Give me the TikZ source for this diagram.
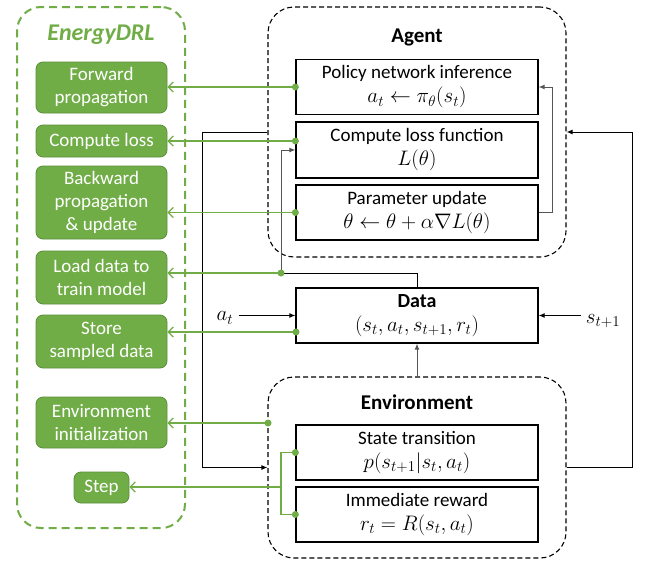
\RequirePackage{fix-cm}
\documentclass[tikz,border=0pt]{standalone}
\usepackage{fontspec}
\setmainfont{Carlito}
\DeclareMathSizes{19}{21}{15}{12}
\DeclareMathSizes{20}{21}{15}{12}
\usetikzlibrary{arrows.meta,calc}
\definecolor{gfill}{HTML}{70AD47}
\definecolor{gdark}{HTML}{5A8F39}
\definecolor{lgray}{HTML}{555555}
\tikzset{
  gbox/.style={draw=gdark, line width=0.8pt, fill=gfill, rounded corners=7pt, text=white, align=center, inner sep=0pt, font=\fontsize{19}{23}\selectfont, minimum width=131pt},
  ibox/.style={draw=black, line width=1.3pt, fill=white, align=center, inner sep=0pt, font=\fontsize{19}{24}\selectfont, minimum width=242pt, minimum height=55pt},
  dbox/.style={draw=black, line width=1.1pt, dash pattern=on 5pt off 3pt, rounded corners=26pt, inner sep=0pt, minimum width=298pt},
  gdash/.style={draw=gfill, line width=2pt, dash pattern=on 8pt off 5pt, rounded corners=24pt, inner sep=0pt},
  gline/.style={draw=gfill, line width=1.6pt},
  garrow/.style={gline, -{Straight Barb[length=5pt,width=10pt,line width=1.3pt]}},
  barrow/.style={draw=black, line width=1pt, -{Latex[length=6pt,width=5pt]}},
  grarrow/.style={draw=lgray, line width=1pt, -{Latex[length=6pt,width=5pt]}},
  gdot/.style={circle, fill=gfill, inner sep=0pt, minimum size=7pt},
  ttl/.style={font=\fontsize{21}{25}\selectfont\bfseries, inner sep=0pt},
}
\begin{document}
\begin{tikzpicture}[x=1pt,y=-1pt]
\useasboundingbox (0,0) rectangle (648,562);
% containers
\node[gdash, minimum width=168pt, minimum height=521pt] (energy) at (101,267.5) {};
\node[text=gfill, font=\fontsize{24}{28}\selectfont\bfseries\itshape, inner sep=0pt] (etitle) at (101,35) {EnergyDRL};
\node[dbox, minimum height=250pt] (agent) at (417,132) {};
\node[dbox, minimum height=181pt] (env) at (417,467.5) {};
\node[ttl] (atitle) at (417,37) {Agent};
\node[ttl] (etitle2) at (417,402) {Environment};
% green boxes
\node[gbox, minimum height=51pt] (fwd) at (101.5,87.5) {Forward\\propagation};
\node[gbox, minimum height=32pt] (closs) at (101.5,141) {Compute loss};
\node[gbox, minimum height=73pt] (bwd) at (101.5,202.5) {Backward\\propagation\\\&~update};
\node[gbox, minimum height=53pt] (load) at (101.5,277.5) {Load data to\\train model};
\node[gbox, minimum height=53pt] (store) at (101.5,341.5) {Store\\sampled data};
\node[gbox, minimum height=51pt] (einit) at (101.5,422.5) {Environment\\initialization};
\node[gbox, minimum height=31pt, minimum width=55pt] (step) at (101.5,487.5) {Step};
% inner boxes
\node[ibox] (policy) at (417,87) {Policy network inference\\$a_t \leftarrow \pi_\theta(s_t)$};
\node[ibox, minimum height=56pt] (loss) at (417,150) {Compute loss function\\$L(\theta)$};
\node[ibox] (param) at (417,212.5) {Parameter update\\$\theta \leftarrow \theta + \alpha\nabla L(\theta)$};
\node[ibox] (data) at (417,315.5) {{\fontsize{20}{24}\selectfont\bfseries Data}\\$(s_t,a_t,s_{t+1},r_t)$};
\node[ibox] (state) at (417,452.5) {State transition\\$p(s_{t+1}|s_t,a_t)$};
\node[ibox] (reward) at (417,514.5) {Immediate reward\\$r_t = R(s_t,a_t)$};
% labels
\node[font=\fontsize{19}{23}\selectfont, inner sep=0pt] (at) at (225,318) {$a_t$};
\node[font=\fontsize{19}{23}\selectfont, inner sep=0pt] (st) at (603,321) {$s_{t+1}$};
% junction coordinates
\coordinate (j1) at (281,273);
\coordinate (ds) at (296,332);
\coordinate (ei) at (268,423);
\coordinate (sj) at (281,487);
% black / gray connectors
\draw[barrow] (agent.west) -- ++(-65,0) |- (env.west);
\draw[barrow] (env.east) -- ++(66,0) |- (agent.east);
\draw[grarrow] (param.east) -- ++(14,0) |- (policy.east);
\draw[draw=black, line width=1pt] (data.north) |- (j1);
\draw[grarrow] (j1) |- (loss.west);
\draw[grarrow] (env.north) -- (data.south);
\draw[barrow] ([xshift=5pt]at.east |- data.west) -- (data.west);
\draw[barrow] ([xshift=-5pt]st.west |- data.east) -- (data.east);
% green connectors
\draw[garrow] (policy.west) -- (policy.west -| fwd.east);
\draw[garrow] (loss.west |- closs.east) -- (closs.east);
\draw[garrow] (param.west) -- (param.west -| bwd.east);
\draw[garrow] (j1) -- (j1 -| load.east);
\draw[garrow] (ds) -- (ds -| store.east);
\draw[garrow] (ei) -- (ei -| einit.east);
\draw[gline] (state.west) -| (sj) |- (reward.west);
\draw[garrow] (sj) -- (sj -| step.east);
% dots
\node[gdot] at (policy.west) {};
\node[gdot] at (loss.west |- closs.east) {};
\node[gdot] at (param.west) {};
\node[gdot] at (j1) {};
\node[gdot] at (ds) {};
\node[gdot] at (ei) {};
\node[gdot] at (state.west) {};
\node[gdot] at (reward.west) {};
\end{tikzpicture}
\end{document}
